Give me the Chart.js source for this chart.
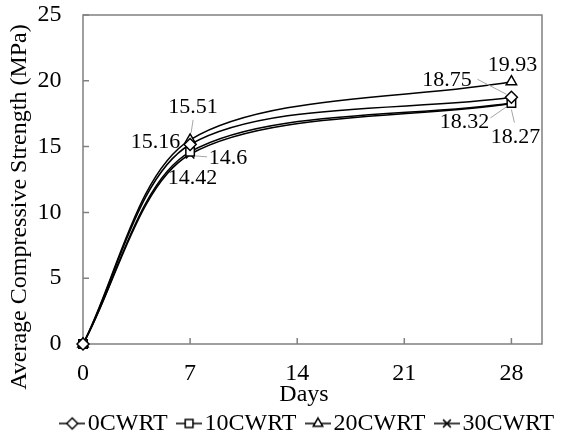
<!DOCTYPE html>
<html>
<head>
<meta charset="utf-8">
<script src="https://cdn.jsdelivr.net/npm/chart.js@4.4.1/dist/chart.umd.min.js"></script>
<style>
html,body{margin:0;padding:0;background:#fff;}
canvas{display:block;}
</style>
</head>
<body>
<canvas id="c" width="564" height="441"></canvas>
<script>
// ---------- data ----------
const days = [0, 7, 28];
const seriesNames = ['0CWRT', '10CWRT', '20CWRT', '30CWRT'];
const s0CWRT  = [0, 15.16, 18.75];
const s10CWRT = [0, 14.6, 18.32];
const s20CWRT = [0, 15.51, 19.93];
const s30CWRT = [0, 14.42, 18.27];
const xTickValues = [0, 7, 14, 21, 28];
const yTickValues = [0, 5, 10, 15, 20, 25];
const xTitle = 'Days';
const yTitle = 'Average Compressive Strength (MPa)';

// ---------- styles ----------
const seriesValues = [s0CWRT, s10CWRT, s20CWRT, s30CWRT];
const markerStyles = ['rectRot', 'rect', 'triangle', 'crossRot'];
const FONT = '"Liberation Serif", "Times New Roman", Times, serif';
const AXIS_COLOR = '#808080';
const LEADER_COLOR = '#a6a6a6';
// label offsets (px) relative to their point, optional leader line [x1,y1,x2,y2]
const labelPlacement = [
  {1: {dx: -34.5, dy: -2.5}, 2: {dx: -64.5, dy: -17.3, lead: [-34, -18, -5, -3]}},
  {1: {dx: 38, dy: 6, lead: [17, 5, 5, 4]}, 2: {dx: -47, dy: 19, lead: [-21, 15, -5, 4]}},
  {1: {dx: 3, dy: -33, lead: [3, -20, 1, -7]}, 2: {dx: 1, dy: -16.7}},
  {1: {dx: 2.5, dy: 24}, 2: {dx: 4, dy: 33.4, lead: [3, 19, 0, 6]}}
];

function drawMarker(ctx, style, x, y, r) {
  ctx.beginPath();
  if (style === 'rectRot') {
    ctx.moveTo(x, y - r); ctx.lineTo(x + r, y); ctx.lineTo(x, y + r); ctx.lineTo(x - r, y); ctx.closePath();
    ctx.fill(); ctx.stroke();
  } else if (style === 'rect') {
    const s = r * Math.SQRT1_2;
    ctx.rect(x - s, y - s, 2 * s, 2 * s); ctx.fill(); ctx.stroke();
  } else if (style === 'triangle') {
    ctx.moveTo(x, y - r);
    ctx.lineTo(x + r * Math.sin(2 * Math.PI / 3), y - r * Math.cos(2 * Math.PI / 3));
    ctx.lineTo(x + r * Math.sin(4 * Math.PI / 3), y - r * Math.cos(4 * Math.PI / 3));
    ctx.closePath(); ctx.fill(); ctx.stroke();
  } else {
    const d = r * Math.SQRT1_2;
    ctx.moveTo(x - d, y - d); ctx.lineTo(x + d, y + d);
    ctx.moveTo(x + d, y - d); ctx.lineTo(x - d, y + d);
    ctx.stroke();
  }
}

function legendIcon(style) {
  const cv = document.createElement('canvas');
  cv.width = 26; cv.height = 16;
  const c = cv.getContext('2d');
  c.strokeStyle = '#000'; c.fillStyle = '#fff'; c.lineWidth = 1.5;
  c.beginPath(); c.moveTo(0, 8); c.lineTo(26, 8); c.stroke();
  drawMarker(c, style, 13, 8, 5.5);
  return cv;
}
const legendIcons = markerStyles.map(legendIcon);

const framePlugin = {
  id: 'frame',
  afterLayout(chart) {
    const a = chart.chartArea;
    const lg = chart.legend;
    if (lg) {
      const dx = (a.left + a.right) / 2 - 1 - (lg.left + lg.right) / 2;
      lg.left += dx; lg.right += dx;
      lg.top += 4.5; lg.bottom += 4.5;
    }
    chart.scales.y.bottom += 55;   // centre the y title like the reference
    chart.scales.x.right -= 17;    // centre the x title like the reference
  },
  beforeDatasetsDraw(chart) {
    const {ctx, chartArea: a, scales: {x, y}} = chart;
    ctx.save();
    ctx.strokeStyle = AXIS_COLOR;
    ctx.lineWidth = 1.5;
    ctx.beginPath();
    ctx.moveTo(a.left, a.bottom); ctx.lineTo(a.left, a.top); ctx.lineTo(a.right, a.top);
    ctx.lineTo(a.right, a.bottom); ctx.closePath();
    ctx.stroke();
    ctx.beginPath();
    x.ticks.forEach(t => { const px = x.getPixelForValue(t.value); ctx.moveTo(px, a.bottom); ctx.lineTo(px, a.bottom - 6); });
    y.ticks.forEach(t => { const py = y.getPixelForValue(t.value); ctx.moveTo(a.left, py); ctx.lineTo(a.left + 6, py); });
    ctx.stroke();
    ctx.restore();
  }
};

const dataLabelPlugin = {
  id: 'dataLabels',
  afterDatasetsDraw(chart) {
    const ctx = chart.ctx;
    ctx.save();
    chart.data.datasets.forEach((ds, i) => {
      const meta = chart.getDatasetMeta(i);
      const place = labelPlacement[i];
      meta.data.forEach((el, j) => {
        const p = place[j];
        if (!p) return;
        if (p.lead) {
          ctx.strokeStyle = LEADER_COLOR; ctx.lineWidth = 1;
          ctx.beginPath();
          ctx.moveTo(el.x + p.lead[0], el.y + p.lead[1]);
          ctx.lineTo(el.x + p.lead[2], el.y + p.lead[3]);
          ctx.stroke();
        }
        ctx.fillStyle = '#000';
        ctx.font = '22px ' + FONT;
        ctx.textAlign = 'center';
        ctx.textBaseline = 'middle';
        ctx.fillText(String(ds.data[j].y), el.x + p.dx, el.y + p.dy);
      });
    });
    ctx.restore();
  }
};

new Chart(document.getElementById('c'), {
  type: 'line',
  data: {
    datasets: seriesNames.map((name, i) => ({
      label: name,
      data: days.map((d, j) => ({x: d, y: seriesValues[i][j]})),
      borderColor: '#000',
      borderWidth: 1.5,
      backgroundColor: '#fff',
      pointStyle: markerStyles[i],
      pointRadius: 6,
      pointBorderWidth: 1.5,
      pointBackgroundColor: '#fff',
      pointBorderColor: '#000',
      tension: 0.3,
      fill: false,
      clip: false
    }))
  },
  options: {
    responsive: false,
    animation: false,
    devicePixelRatio: 1,
    layout: {padding: {left: 0, right: 22, top: 15, bottom: 0}},
    plugins: {
      tooltip: {enabled: false},
      legend: {
        position: 'bottom',
        labels: {
          usePointStyle: true,
          boxWidth: 7,
          padding: 18,
          color: '#000',
          font: {family: FONT, size: 24},
          generateLabels: (chart) => chart.data.datasets.map((ds, i) => ({
            text: ds.label,
            pointStyle: legendIcons[i],
            fontColor: '#000',
            lineWidth: 0,
            hidden: false,
            datasetIndex: i
          }))
        }
      }
    },
    scales: {
      x: {
        type: 'linear',
        min: 0,
        max: 30,
        afterBuildTicks: (s) => { s.ticks = xTickValues.map(v => ({value: v})); },
        afterFit: (s) => { s.height = 45; },
        grid: {display: false, drawTicks: true, tickLength: 15},
        border: {display: false},
        ticks: {padding: 0, color: '#000', font: {family: FONT, size: 24}},
        title: {display: true, text: xTitle, color: '#000', font: {family: FONT, size: 24}, padding: {top: 0, bottom: -20.4}}
      },
      y: {
        type: 'linear',
        min: 0,
        max: 25,
        afterBuildTicks: (s) => { s.ticks = yTickValues.map(v => ({value: v})); },
        afterFit: (s) => { s.width = 83; },
        grid: {display: false, drawTicks: true, tickLength: 21.5},
        border: {display: false},
        ticks: {padding: 0, color: '#000', font: {family: FONT, size: 24}},
        title: {display: true, text: yTitle, color: '#000', font: {family: FONT, size: 24}, padding: {top: 5.6, bottom: 0}}
      }
    }
  },
  plugins: [framePlugin, dataLabelPlugin]
});
</script>
</body>
</html>
